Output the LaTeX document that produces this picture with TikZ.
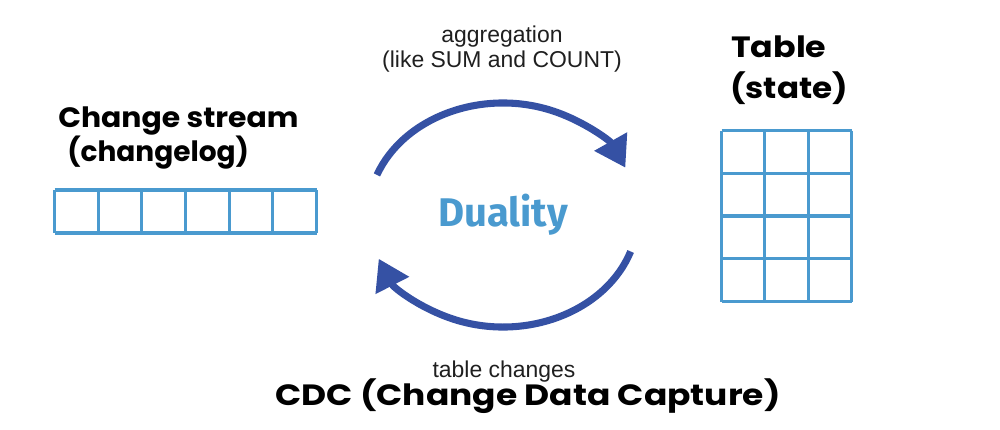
\documentclass[tikz,border=0pt]{standalone}
\usepackage{fontspec}
\usepackage{graphicx}
\usetikzlibrary{arrows.meta}
\newfontfamily\headfont{Poppins}
\newfontfamily\smallfont{Liberation Sans}
\newfontfamily\dualfont{Fira Sans}
\definecolor{gridblue}{HTML}{4A9ACF}
\definecolor{arrowblue}{HTML}{3551A4}
\newcommand{\hstretch}[2]{\scalebox{#1}[1]{#2}}
\begin{document}
\begin{tikzpicture}[x=0.75pt,y=-0.75pt,
  head/.style={inner sep=0pt, font=\headfont\bfseries\fontsize{21pt}{24pt}\selectfont},
  bighead/.style={inner sep=0pt, font=\headfont\bfseries\fontsize{22pt}{25pt}\selectfont},
  small/.style={inner sep=0pt, font=\smallfont\fontsize{17.2pt}{20pt}\selectfont, text=black!88},
  dual/.style={inner sep=0pt, text=gridblue, font=\dualfont\bfseries\fontsize{30pt}{34pt}\selectfont},
  gridline/.style={draw=gridblue, line width=2.3pt},
  cycle/.style={draw=arrowblue, line width=5.3pt, -{Triangle[length=22.5pt,width=27pt]}}]
\useasboundingbox (0,0) rectangle (1000,429);
% texts
\node[head, anchor=base west] (cs) at (58,127) {\hstretch{1.067}{Change stream}};
\node[head, anchor=base west] (cl) at (67,161) {(changelog)};
\node[bighead, anchor=base west] (tb) at (731,57) {\hstretch{1.135}{Table}};
\node[bighead, anchor=base west] (st) at (730,98) {\hstretch{1.11}{(state)}};
\node[bighead, anchor=base] (cdc) at (528,405) {\hstretch{1.175}{CDC (Change Data Capture)}};
\node[small, anchor=base] (tc) at (504,377) {table changes};
\node[small, anchor=base] (ag) at (502,42) {aggregation};
\node[small, anchor=base] (like) at (502,67) {(like SUM and COUNT)};
\node[dual, anchor=base] (du) at (503,226) {Duality};
% change stream strip
\foreach \i in {0,...,6} \draw[gridline] ({54.5+\i*43.67},190) -- ({54.5+\i*43.67},233);
\draw[gridline] (54.5,190) -- (316.5,190) (54.5,233) -- (316.5,233);
% table grid
\foreach \i in {0,...,3} \draw[gridline] ({721.5+\i*43.33},130.5) -- ({721.5+\i*43.33},301.5);
\foreach \j in {0,...,4} \draw[gridline] (721.5,{130.5+\j*42.75}) -- (851.5,{130.5+\j*42.75});
% arrows
\draw[cycle] ({503+135*cos(159)},{215-112*sin(159)}) arc[start angle=-159, end angle=-25, x radius=135, y radius=112];
\draw[cycle] ({503+135*cos(-19)},{215-112*sin(-19)}) arc[start angle=19, end angle=157, x radius=135, y radius=112];
\end{tikzpicture}
\end{document}
